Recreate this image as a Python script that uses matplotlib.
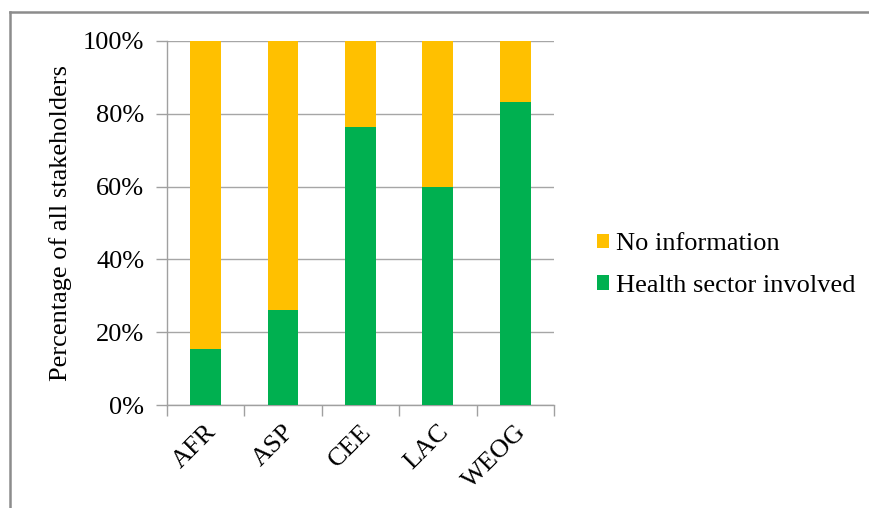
import matplotlib
matplotlib.use("Agg")
import matplotlib.pyplot as plt
from matplotlib.lines import Line2D
from matplotlib.patches import Patch
import numpy as np

regions = ["AFR", "ASP", "CEE", "LAC", "WEOG"]
health_involved = [15.4, 26.2, 76.3, 60.0, 83.3]
no_information = [100 - v for v in health_involved]
y_ticks = [0, 20, 40, 60, 80, 100]
y_tick_labels = ["0%", "20%", "40%", "60%", "80%", "100%"]

GREEN = "#00B050"
YELLOW = "#FFC000"
GRID = "#A6A6A6"
AXIS = "#A0A0A0"
FS = 19

plt.rcParams["font.family"] = ["Liberation Serif", "DejaVu Serif"]

fig = plt.figure(figsize=(8.69, 5.08), dpi=100)
ax = fig.add_axes([0.1918, 0.2022, 0.6375 - 0.1918, 0.9199 - 0.2022])

x = np.arange(len(regions))
ax.bar(x, health_involved, width=0.395, color=GREEN, zorder=3)
ax.bar(x, no_information, width=0.395, bottom=health_involved, color=YELLOW, zorder=3)

ax.set_xlim(-0.5, len(regions) - 0.5)
ax.set_ylim(0, 100)
ax.set_yticks(y_ticks)
ax.set_yticklabels(y_tick_labels, fontsize=FS)
ax.yaxis.grid(True, color=GRID, linewidth=1.0, zorder=0)
ax.set_axisbelow(True)

ax.set_xticks(x)
ax.set_xticklabels(regions, fontsize=FS, rotation=45, ha="right",
                   rotation_mode="anchor")
ax.set_xticks(np.arange(-0.5, len(regions)), minor=True)
ax.tick_params(axis="x", which="major", length=0, pad=11)
ax.tick_params(axis="x", which="minor", length=8, color=AXIS, width=1)
ax.tick_params(axis="y", length=8, color=AXIS, width=1, pad=8)

for side in ("top", "right"):
    ax.spines[side].set_visible(False)
for side in ("left", "bottom"):
    ax.spines[side].set_color(AXIS)
    ax.spines[side].set_linewidth(1)

ax.set_ylabel("Percentage of all stakeholders", fontsize=FS, labelpad=8)

handles = [Patch(facecolor=YELLOW, edgecolor="none"),
           Patch(facecolor=GREEN, edgecolor="none")]
fig.legend(handles, ["No information", "Health sector involved"],
           loc="center left", bbox_to_anchor=(0.687, 0.478),
           frameon=False, fontsize=FS, handlelength=0.47, handleheight=0.47,
           handletextpad=0.25, labelspacing=0.75, borderaxespad=0,
           borderpad=0)

# outer chart frame (top and left edges)
fig.add_artist(Line2D([10 / 869, 1.0], [1 - 12 / 508, 1 - 12 / 508],
                      transform=fig.transFigure, color="#8C8C8C", linewidth=1.8))
fig.add_artist(Line2D([10 / 869, 10 / 869], [0.0, 1 - 12 / 508],
                      transform=fig.transFigure, color="#8C8C8C", linewidth=1.8))

fig.savefig("out.png", dpi=100)
